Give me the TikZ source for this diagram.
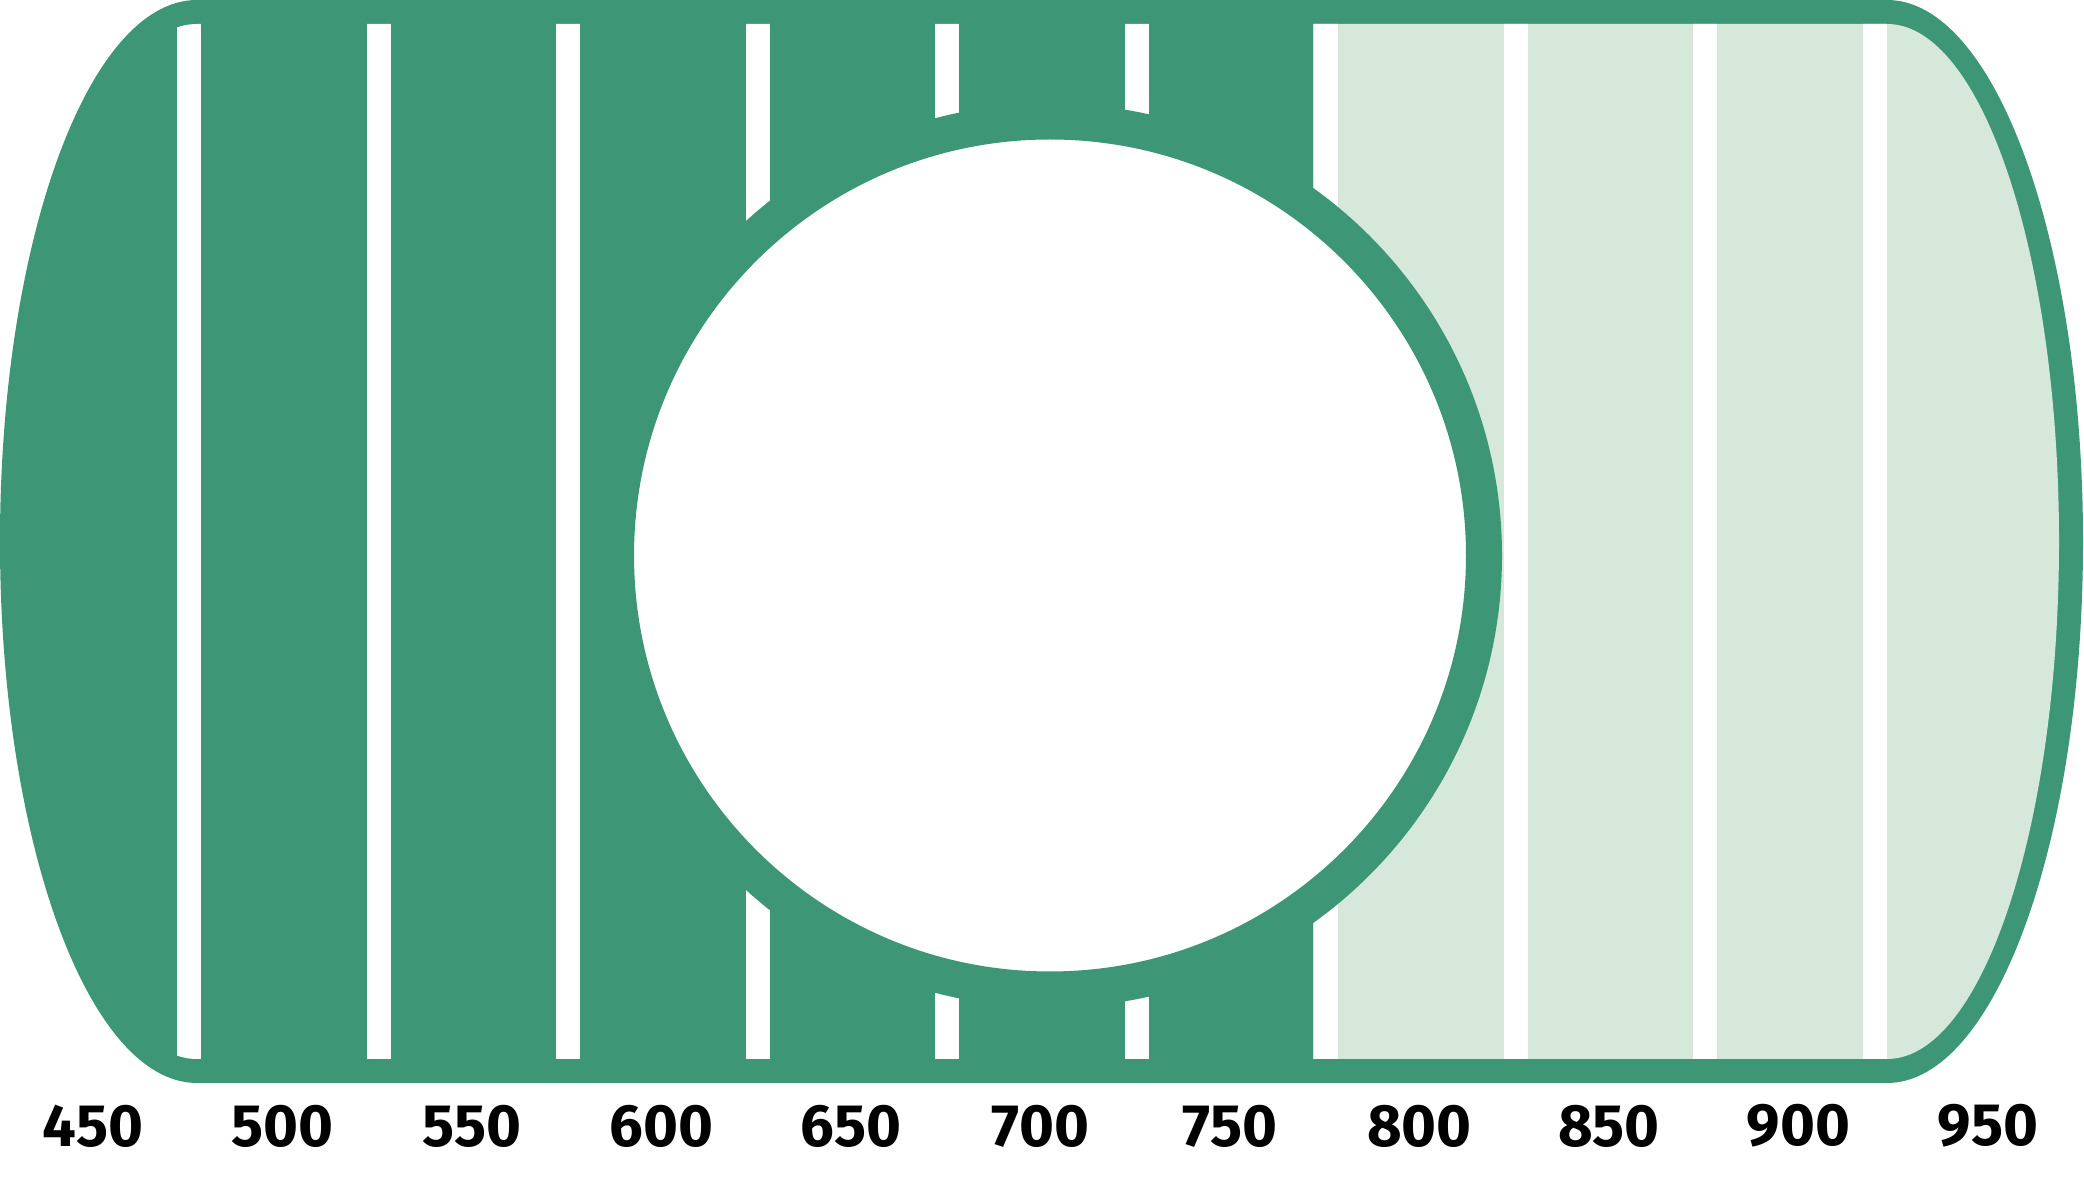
\documentclass[tikz,border=0pt]{standalone}
\usepackage{fontspec}
\setmainfont{Fira Sans}
\definecolor{darkgreen}{RGB}{61,150,118}
\definecolor{palegreen}{RGB}{214,232,218}

\begin{document}
\begin{tikzpicture}[x=0.01cm,y=0.01cm,
  tick/.style={font=\fontsize{17}{18}\selectfont\bfseries, inner sep=0pt}]
  \useasboundingbox (0,0) rectangle (2084,1191);
  % outer shell
  \fill[darkgreen] (197,1191) -- (1887,1191) arc[start angle=90,end angle=-90,x radius=196,y radius=541.5]
    -- (197,108) arc[start angle=270,end angle=90,x radius=197,y radius=541.5] -- cycle;
  \begin{scope}
    \clip (197,1167) -- (1887,1167) arc[start angle=90,end angle=-90,x radius=172,y radius=517.5]
      -- (197,132) arc[start angle=270,end angle=90,x radius=173,y radius=517.5] -- cycle;
    \fill[palegreen] (1313,0) rectangle (2084,1191);
    \foreach \i in {0,...,8}
      \fill[white] ({177+189.5*\i},0) rectangle +(24,1191);
    \fill[white] (1863,0) rectangle +(24,1191);
  \end{scope}
  % ring
  \draw[darkgreen, line width=0.36cm, fill=white] (1050,635.5) circle[radius=434];
  % labels
  \foreach \v [count=\i from 0] in {450,500,...,950}
    \node[tick] (lbl\v) at ({93+189.5*\i},65) {\v};
\end{tikzpicture}
\end{document}
